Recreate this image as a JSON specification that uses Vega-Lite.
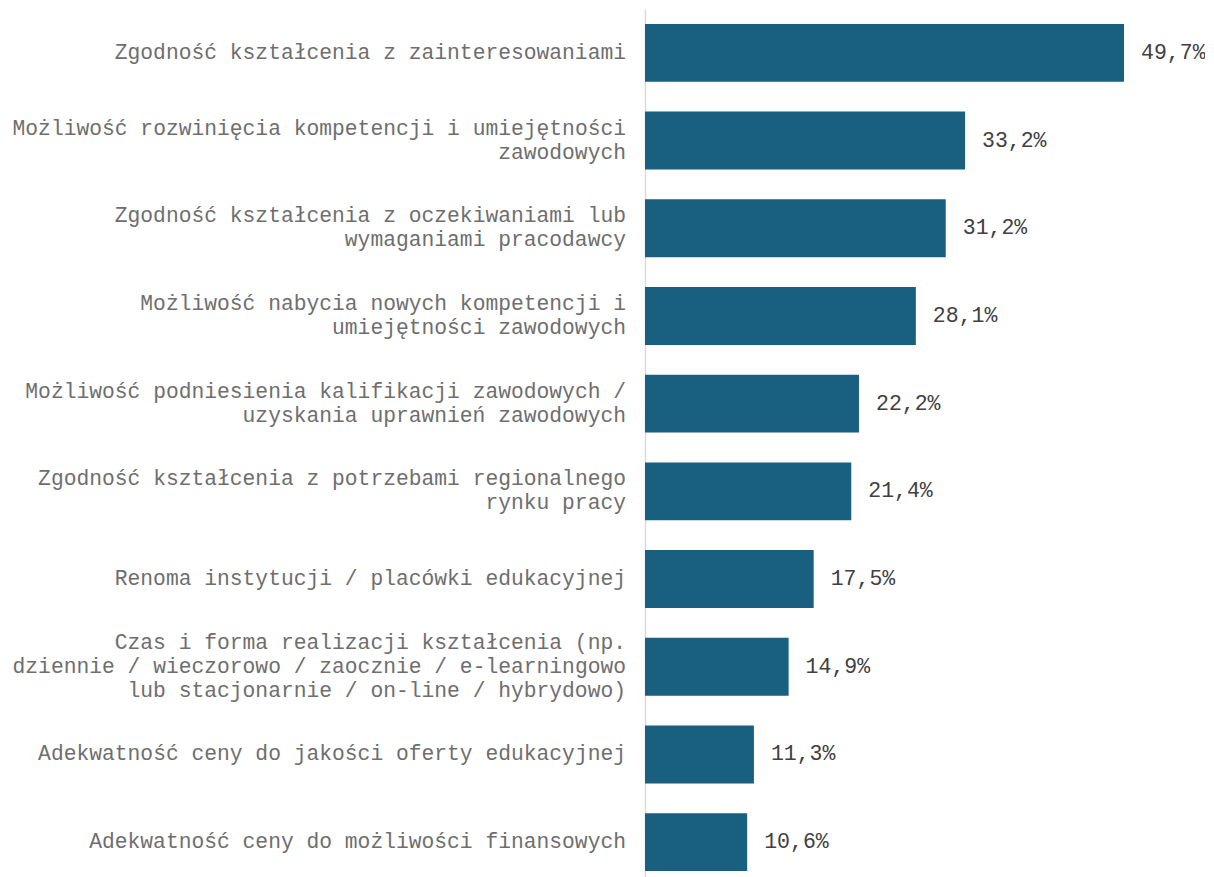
{
  "$schema": "https://vega.github.io/schema/vega-lite/v6.json",
  "autosize": "none",
  "width": 560,
  "height": 877,
  "padding": {"left": 645, "top": 9, "right": 0, "bottom": 0},
  "background": "white",
  "data": {"values": [
    {"k": "Zgodność kształcenia z zainteresowaniami", "v": 49.7},
    {"k": "Możliwość rozwinięcia kompetencji i umiejętności|zawodowych", "v": 33.2},
    {"k": "Zgodność kształcenia z oczekiwaniami lub|wymaganiami pracodawcy", "v": 31.2},
    {"k": "Możliwość nabycia nowych kompetencji i|umiejętności zawodowych", "v": 28.1},
    {"k": "Możliwość podniesienia kalifikacji zawodowych /|uzyskania uprawnień zawodowych", "v": 22.2},
    {"k": "Zgodność kształcenia z potrzebami regionalnego|rynku pracy", "v": 21.4},
    {"k": "Renoma instytucji / placówki edukacyjnej", "v": 17.5},
    {"k": "Czas i forma realizacji kształcenia (np.|dziennie / wieczorowo / zaocznie / e-learningowo|lub stacjonarnie / on-line / hybrydowo)", "v": 14.9},
    {"k": "Adekwatność ceny do jakości oferty edukacyjnej", "v": 11.3},
    {"k": "Adekwatność ceny do możliwości finansowych", "v": 10.6}
  ]},
  "transform": [
    {"calculate": "replace(format(datum.v, '.1f'), '.', ',') + '%'", "as": "lbl"},
    {"calculate": "split(datum.k, '|')", "as": "lines"},
    {"calculate": "length(datum.lines)", "as": "nl"}
  ],
  "encoding": {
    "y": {
      "field": "k", "type": "nominal", "sort": null,
      "scale": {"paddingInner": 0.34, "paddingOuter": 0.17},
      "axis": {
        "title": null, "ticks": false, "grid": false, "labels": false,
        "domainColor": "#d9d9d9", "domainWidth": 1.5
      }
    },
    "x": {
      "field": "v", "type": "quantitative",
      "scale": {"domain": [0, 58.1], "nice": false},
      "axis": null
    }
  },
  "layer": [
    {"mark": {"type": "bar", "color": "#185f80"}},
    {
      "mark": {"type": "text", "align": "left", "dx": 17, "font": "Liberation Mono", "fontSize": 21.5, "color": "#404040"},
      "encoding": {"text": {"field": "lbl"}}
    },
    {
      "transform": [{"filter": "datum.nl == 1"}],
      "mark": {"type": "text", "align": "right", "baseline": "middle", "dx": -19, "dy": 0, "font": "Liberation Mono", "fontSize": 21.3, "lineHeight": 24, "color": "#6e6e6e"},
      "encoding": {"x": {"datum": 0, "type": "quantitative"}, "text": {"field": "lines"}}
    },
    {
      "transform": [{"filter": "datum.nl == 2"}],
      "mark": {"type": "text", "align": "right", "baseline": "middle", "dx": -19, "dy": -12, "font": "Liberation Mono", "fontSize": 21.3, "lineHeight": 24, "color": "#6e6e6e"},
      "encoding": {"x": {"datum": 0, "type": "quantitative"}, "text": {"field": "lines"}}
    },
    {
      "transform": [{"filter": "datum.nl == 3"}],
      "mark": {"type": "text", "align": "right", "baseline": "middle", "dx": -19, "dy": -24, "font": "Liberation Mono", "fontSize": 21.3, "lineHeight": 24, "color": "#6e6e6e"},
      "encoding": {"x": {"datum": 0, "type": "quantitative"}, "text": {"field": "lines"}}
    }
  ],
  "config": {"view": {"stroke": null}}
}
